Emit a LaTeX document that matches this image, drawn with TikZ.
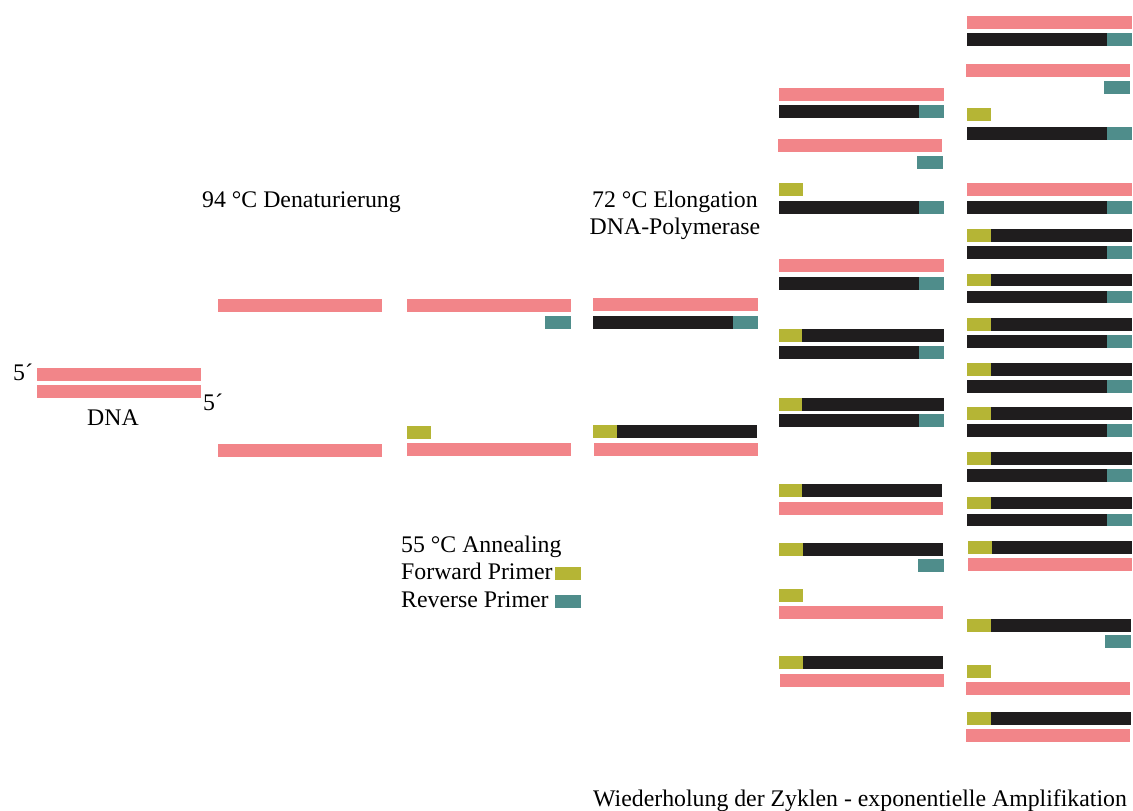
\documentclass[tikz,border=0pt]{standalone}
\usepackage{fontspec}
\setmainfont{Liberation Serif}
\definecolor{pinkc}{RGB}{242,133,137}
\definecolor{blackc}{RGB}{31,29,30}
\definecolor{tealc}{RGB}{79,141,139}
\definecolor{olivec}{RGB}{181,181,53}
\newcommand\bseg[4]{\fill[#1] (#2,#3) rectangle (#4,{#3+12.7});}
\newcommand\bpink[3]{\bseg{pinkc}{#1}{#3}{#2}}
\newcommand\bteal[3]{\bseg{tealc}{#1}{#3}{#2}}
\newcommand\bolive[3]{\bseg{olivec}{#1}{#3}{#2}}
% black + teal: x1, xsplit, x2, y
\newcommand\bbt[4]{\bseg{blackc}{#1}{#4}{#2}\bseg{tealc}{#2}{#4}{#3}}
% olive + black: x1, xsplit, x2, y
\newcommand\bob[4]{\bseg{olivec}{#1}{#4}{#2}\bseg{blackc}{#2}{#4}{#3}}
\tikzset{lbl/.style={inner sep=0pt,font=\fontsize{23.8}{28}\selectfont,text=black}}
\begin{document}
\begin{tikzpicture}[x=1pt,y=-1pt]
\useasboundingbox (0,0) rectangle (1133,811);
% column 1
\bpink{37}{201}{368}
\bpink{37}{201}{385}
% column 2
\bpink{218}{382}{299}
\bpink{218}{382}{444}
% column 3
\bpink{407}{571}{299}
\bteal{545}{571}{316}
\bolive{407}{431}{426}
\bpink{407}{571}{443}
% column 4
\bpink{593}{758}{298}
\bbt{593}{733}{758}{316}
\bob{593}{617}{757}{425}
\bpink{594}{758}{443}
% column 5
\bpink{779}{944}{88}
\bbt{779}{919}{944}{105}
\bpink{778}{942}{139}
\bteal{917}{943}{156}
\bolive{779}{803}{183}
\bbt{779}{919}{944}{201}
\bpink{779}{944}{259}
\bbt{779}{919}{944}{277}
\bob{779}{802}{944}{329}
\bbt{779}{919}{944}{346}
\bob{779}{802}{944}{398}
\bbt{779}{919}{944}{414}
\bob{779}{802}{942}{484}
\bpink{779}{943}{502}
\bob{779}{803}{943}{543}
\bteal{918}{944}{559}
\bolive{779}{803}{589}
\bpink{779}{943}{606}
\bob{779}{803}{943}{656}
\bpink{780}{944}{674}
% column 6
\bpink{967}{1132}{16}
\bbt{967}{1107}{1132}{33}
\bpink{966}{1130}{64}
\bteal{1104}{1130}{81}
\bolive{967}{991}{108}
\bbt{967}{1107}{1132}{127}
\bpink{967}{1132}{183}
\bbt{967}{1107}{1132}{201}
\foreach \k in {0,...,6}{
  \pgfmathsetmacro\yy{229+44.6*\k}
  \bob{967}{991}{1132}{\yy}
  \pgfmathsetmacro\yz{\yy+17}
  \bbt{967}{1107}{1132}{\yz}
}
\bob{968}{992}{1132}{541}
\bpink{968}{1132}{558}
\bob{967}{991}{1131}{619}
\bteal{1105}{1131}{635}
\bolive{967}{991}{665}
\bpink{966}{1130}{682}
\bob{967}{991}{1131}{712}
\bpink{966}{1130}{729}
% legend boxes
\bolive{555}{581}{567}
\bteal{555}{581}{595}
% texts
\node[lbl,anchor=base west] (five1) at (13,380) {5´};
\node[lbl,anchor=base west] (five2) at (203,410) {5´};
\node[lbl,anchor=base] (dna) at (113,425) {DNA};
\node[lbl,anchor=base west] (den) at (202,207) {94 °C Denaturierung};
\node[lbl,anchor=base] (elo) at (675,207) {72 °C Elongation};
\node[lbl,anchor=base] (pol) at (675,234) {DNA-Polymerase};
\node[lbl,anchor=base west] (ann) at (401,552) {55 °C Annealing};
\node[lbl,anchor=base west] (fwd) at (401,579) {Forward Primer};
\node[lbl,anchor=base west] (rev) at (401,607) {Reverse Primer};
\node[lbl,anchor=base west] (rep) at (593,806) {Wiederholung der Zyklen - exponentielle Amplifikation};
\end{tikzpicture}
\end{document}
